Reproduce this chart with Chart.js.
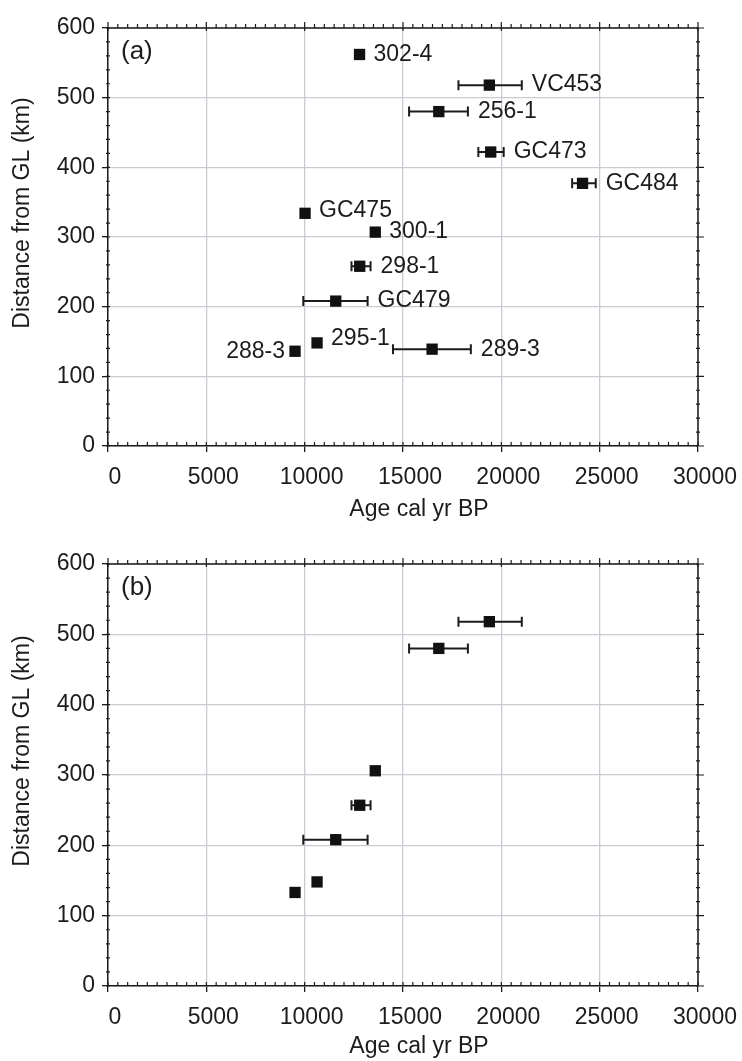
<!DOCTYPE html>
<html>
<head>
<meta charset="utf-8">
<script src="https://cdn.jsdelivr.net/npm/chart.js@4.4.1/dist/chart.umd.min.js"></script>
<style>
  body { margin: 0; background: #fff; }
  .panel { position: relative; width: 742px; }
</style>
</head>
<body>
<div class="panel" style="height:530px"><canvas id="chartA"></canvas></div>
<div class="panel" style="height:531px"><canvas id="chartB"></canvas></div>
<script>
// panel (a) - all cores
const coresA = ['302-4', 'VC453', '256-1', 'GC473', 'GC484', 'GC475', '300-1', '298-1', 'GC479', '295-1', '288-3', '289-3'];
const ageA = [12790, 19390, 16820, 19460, 24130, 10020, 13590, 12800, 11580, 10630, 9510, 16480];
const ageMinA = [12790, 17820, 15310, 18830, 23600, 10020, 13590, 12380, 9930, 10630, 9510, 14490];
const ageMaxA = [12790, 21040, 18300, 20120, 24800, 10020, 13590, 13350, 13200, 10630, 9510, 18450];
const distA = [562, 518, 480, 422, 377, 334, 307, 258, 208, 148, 136, 139];

// panel (b) - subset, no labels
const ageB = [19390, 16820, 13590, 12800, 11580, 10630, 9510];
const ageMinB = [17820, 15310, 13590, 12380, 9930, 10630, 9510];
const ageMaxB = [21040, 18300, 13590, 13350, 13200, 10630, 9510];
const distB = [518, 480, 306, 257, 208, 148, 133];

const xTicks = [0, 5000, 10000, 15000, 20000, 25000, 30000];
const yTicks = [0, 100, 200, 300, 400, 500, 600];
const xTitle = 'Age cal yr BP';
const yTitle = 'Distance from GL (km)';

const FONT = "'Liberation Sans', Arial, Helvetica, sans-serif";
const INK = '#1c1c1c';

// horizontal error bars, drawn under the markers
const errorBars = {
  id: 'errorBars',
  beforeDatasetsDraw(chart) {
    const ctx = chart.ctx;
    const x = chart.scales.x, y = chart.scales.y;
    const ds = chart.data.datasets[0];
    ctx.save();
    ctx.strokeStyle = INK;
    ctx.lineWidth = 2;
    ds.data.forEach((p) => {
      if (p.xMin === p.xMax) return;
      const y0 = y.getPixelForValue(p.y);
      const x1 = x.getPixelForValue(p.xMin), x2 = x.getPixelForValue(p.xMax);
      ctx.beginPath();
      ctx.moveTo(x1, y0); ctx.lineTo(x2, y0);
      ctx.moveTo(x1, y0 - 5); ctx.lineTo(x1, y0 + 5);
      ctx.moveTo(x2, y0 - 5); ctx.lineTo(x2, y0 + 5);
      ctx.stroke();
    });
    ctx.restore();
  }
};

// core names next to points
const pointNames = {
  id: 'pointNames',
  afterDatasetsDraw(chart, args, opts) {
    if (!opts.names) return;
    const ctx = chart.ctx;
    const x = chart.scales.x, y = chart.scales.y;
    const ds = chart.data.datasets[0];
    ctx.save();
    ctx.font = '23px ' + FONT;
    ctx.fillStyle = INK;
    ctx.textBaseline = 'middle';
    ds.data.forEach((p, i) => {
      const name = opts.names[i];
      const y0 = y.getPixelForValue(p.y) - (opts.raise[name] || 0);
      if (opts.leftSide.includes(name)) {
        ctx.textAlign = 'right';
        ctx.fillText(name, x.getPixelForValue(p.xMin) - 10, y0);
      } else {
        ctx.textAlign = 'left';
        const gap = p.xMin === p.xMax ? 14 : 10;
        ctx.fillText(name, x.getPixelForValue(p.xMax) + gap, y0);
      }
    });
    ctx.restore();
  }
};

// frame, mirrored ticks, minor ticks, axis titles and panel tag
const frame = {
  id: 'frame',
  afterDraw(chart, args, opts) {
    const ctx = chart.ctx;
    const a = chart.chartArea;
    const x = chart.scales.x, y = chart.scales.y;
    ctx.save();
    ctx.strokeStyle = INK;
    ctx.lineWidth = 1.5;
    ctx.beginPath();
    ctx.moveTo(a.left, a.top); ctx.lineTo(a.right, a.top); ctx.lineTo(a.right, a.bottom);
    ctx.stroke();
    ctx.lineWidth = 1.2;
    ctx.beginPath();
    for (let v = 0; v <= 30000; v += 500) {
      const px = x.getPixelForValue(v);
      const major = v % 5000 === 0;
      ctx.moveTo(px, a.bottom); ctx.lineTo(px, a.bottom - 4);
      ctx.moveTo(px, a.top + (major ? 3 : 0)); ctx.lineTo(px, a.top - (major ? 6 : 4));
    }
    for (let v = 0; v <= 600; v += 20) {
      const py = y.getPixelForValue(v);
      const major = v % 100 === 0;
      ctx.moveTo(a.left - 2, py); ctx.lineTo(a.left + 2, py);
      ctx.moveTo(a.right - 2, py); ctx.lineTo(a.right + (major ? 6 : 2), py);
    }
    ctx.stroke();

    ctx.fillStyle = INK;
    ctx.textBaseline = 'middle';
    ctx.textAlign = 'left';
    ctx.font = '26px ' + FONT;
    ctx.fillText(opts.tag, a.left + 13, a.top + 24);

    ctx.font = '23px ' + FONT;
    ctx.textAlign = 'center';
    ctx.fillText(xTitle, (a.left + a.right) / 2 + 16, a.bottom + opts.xTitleGap);
    ctx.translate(23, (a.top + a.bottom) / 2 - 24);
    ctx.rotate(-Math.PI / 2);
    ctx.fillText(yTitle, 0, 0);
    ctx.restore();
  }
};

function makeChart(id, age, ageMin, ageMax, dist, names, tag, top, bottomH, xTitleGap) {
  const points = age.map((v, i) => ({ x: v, y: dist[i], xMin: ageMin[i], xMax: ageMax[i] }));
  return new Chart(document.getElementById(id), {
    type: 'scatter',
    data: {
      datasets: [{
        data: points,
        pointStyle: 'rect',
        pointRadius: 8,
        pointHoverRadius: 8,
        backgroundColor: '#111',
        borderColor: '#111',
        borderWidth: 0
      }]
    },
    options: {
      responsive: true,
      maintainAspectRatio: false,
      animation: false,
      layout: { padding: { top: top, right: 44, left: 0, bottom: 0 } },
      plugins: {
        legend: { display: false },
        tooltip: { enabled: false },
        pointNames: { names: names, leftSide: ['288-3'], raise: { 'GC475': 3, '295-1': 4 } },
        frame: { tag: tag, xTitleGap: xTitleGap }
      },
      scales: {
        x: {
          type: 'linear',
          min: 0,
          max: 30000,
          afterBuildTicks: (s) => { s.ticks = xTicks.map((v) => ({ value: v })); },
          afterFit: (s) => { s.height = bottomH; },
          ticks: {
            color: INK, font: { family: FONT, size: 23 }, padding: 12, maxRotation: 0, labelOffset: 7,
            callback: (v) => String(v)
          },
          grid: { color: '#c8ccd2', lineWidth: 1.3, tickColor: INK, tickLength: 6, tickWidth: 1.3 },
          border: { color: INK, width: 1.5 }
        },
        y: {
          type: 'linear',
          min: 0,
          max: 600,
          afterBuildTicks: (s) => { s.ticks = yTicks.map((v) => ({ value: v })); },
          afterFit: (s) => { s.width = 108; },
          ticks: { color: INK, font: { family: FONT, size: 23 }, padding: 7, callback: (v) => String(v) },
          grid: { color: '#c8ccd2', lineWidth: 1.3, tickColor: INK, tickLength: 6, tickWidth: 1.3 },
          border: { color: INK, width: 1.5 }
        }
      }
    },
    plugins: [errorBars, pointNames, frame]
  });
}

makeChart('chartA', ageA, ageMinA, ageMaxA, distA, coresA, '(a)', 28, 84, 64);
makeChart('chartB', ageB, ageMinB, ageMaxB, distB, null, '(b)', 34, 75, 61);
</script>
</body>
</html>
